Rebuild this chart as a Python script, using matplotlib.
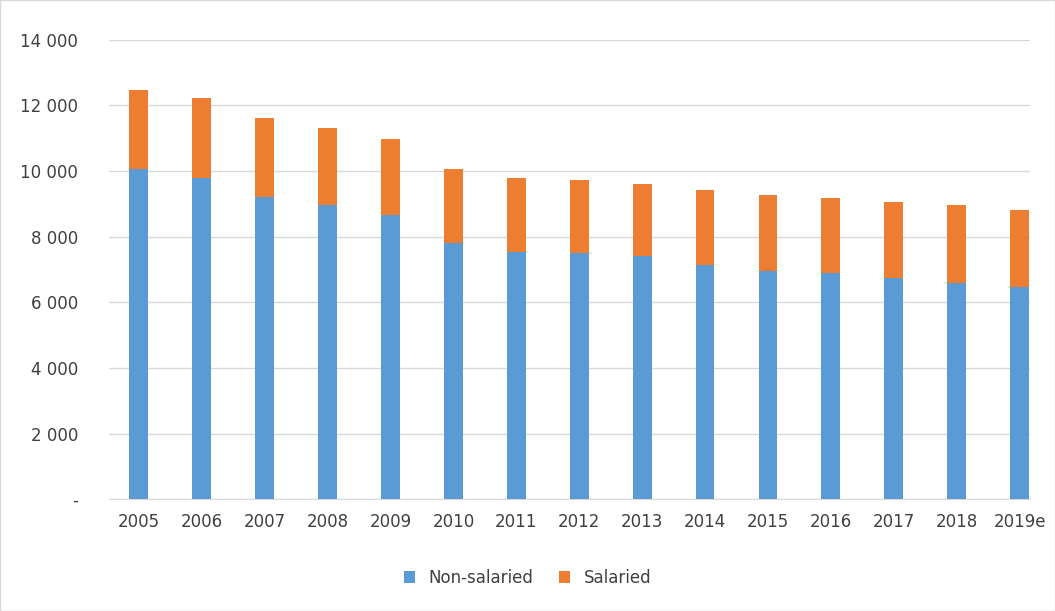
import matplotlib
matplotlib.use("Agg")
import matplotlib.pyplot as plt

years = ["2005", "2006", "2007", "2008", "2009", "2010", "2011", "2012", "2013", "2014",
         "2015", "2016", "2017", "2018", "2019e"]
non_salaried = [10050, 9800, 9220, 8970, 8670, 7810, 7540, 7510, 7420, 7150, 6960, 6900, 6750, 6600, 6470]
total = [12480, 12210, 11600, 11300, 10970, 10050, 9800, 9720, 9610, 9420, 9260, 9190, 9070, 8950, 8800]
salaried = [t - n for t, n in zip(total, non_salaried)]

fig = plt.figure(figsize=(10.55, 6.11), dpi=100)
ax = fig.add_axes([0.103, 0.183, 0.873, 0.752])
x = range(len(years))
ax.bar(x, non_salaried, width=0.3, color="#5B9BD5", label="Non-salaried", zorder=3)
ax.bar(x, salaried, width=0.3, bottom=non_salaried, color="#ED7D31", label="Salaried", zorder=3)

ax.set_ylim(0, 14000)
ax.set_xlim(-0.48, len(years) - 0.84)
ticks = list(range(0, 14001, 2000))
ax.set_yticks(ticks)
ax.set_yticklabels(["-"] + [f"{t:,}".replace(",", " ") for t in ticks[1:]])
ax.set_xticks(list(x))
ax.set_xticklabels(years)
ax.grid(axis="y", color="#D9D9D9", linewidth=1, zorder=0)
for s in ["top", "right", "left"]:
    ax.spines[s].set_visible(False)
ax.spines["bottom"].set_color("#D9D9D9")
ax.tick_params(axis="both", length=0, labelsize=12, colors="#404040", pad=10)
ax.tick_params(axis="y", pad=22)

fig.legend(loc="lower center", bbox_to_anchor=(0.5, 0.015), ncol=2, frameon=False,
           fontsize=12, handlelength=0.7, handleheight=0.7, columnspacing=1.5,
           labelcolor="#404040")
fig.patches.append(plt.Rectangle((0, 0), 1, 1, transform=fig.transFigure, fill=False,
                                 edgecolor="#D9D9D9", linewidth=1))
fig.savefig("out.png", dpi=100)
